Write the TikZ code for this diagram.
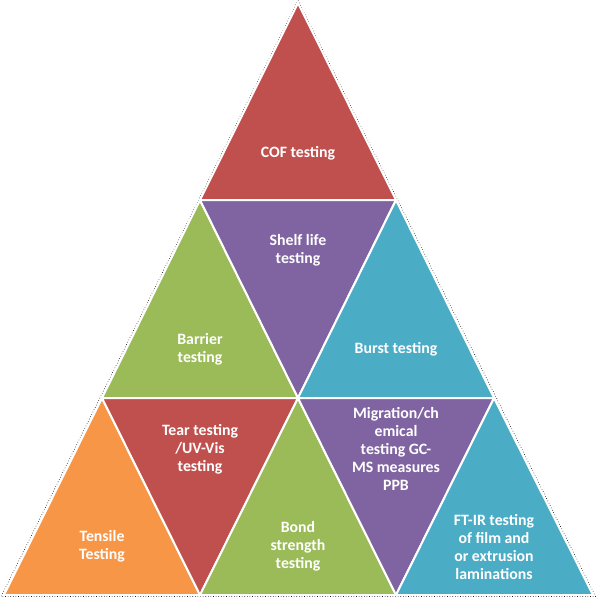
\documentclass[tikz,border=0pt]{standalone}
\usepackage{fontspec}
\setmainfont{Carlito}
\definecolor{cred}{HTML}{C0504D}
\definecolor{cgreen}{HTML}{9BBB59}
\definecolor{cpurple}{HTML}{8064A2}
\definecolor{cblue}{HTML}{4BACC6}
\definecolor{corange}{HTML}{F79646}
\tikzset{
  tri/.style={draw=white, line width=2pt, line join=miter},
  lbl/.style={text=white, font=\bfseries\fontsize{15.8}{18}\selectfont, align=center, inner sep=0pt},
  outline/.style={draw=black, dotted, line width=0.6pt}
}
\begin{document}
\begin{tikzpicture}[x=1pt,y=-1pt]
\useasboundingbox (0,0) rectangle (596,598);
% vertices
\coordinate (A) at (298,3);
\coordinate (B1) at (200,200); \coordinate (B2) at (396,200);
\coordinate (C1) at (102,398); \coordinate (C2) at (298,398); \coordinate (C3) at (494,398);
\coordinate (D1) at (4,595); \coordinate (D2) at (200,595); \coordinate (D3) at (396,595); \coordinate (D4) at (593,595);
% outer dotted outline
\draw[outline] (298,0.5) -- (595.5,596.5) -- (1,596.5) -- cycle;
% triangles
\fill[cred, tri] (A) -- (B1) -- (B2) -- cycle;
\fill[cgreen, tri] (B1) -- (C1) -- (C2) -- cycle;
\fill[cpurple, tri] (B1) -- (B2) -- (C2) -- cycle;
\fill[cblue, tri] (B2) -- (C2) -- (C3) -- cycle;
\fill[corange, tri] (C1) -- (D1) -- (D2) -- cycle;
\fill[cred, tri] (C1) -- (C2) -- (D2) -- cycle;
\fill[cgreen, tri] (C2) -- (D2) -- (D3) -- cycle;
\fill[cpurple, tri] (C2) -- (C3) -- (D3) -- cycle;
\fill[cblue, tri] (C3) -- (D3) -- (D4) -- cycle;
% labels
\node[lbl] (cof) at (298,153) {COF testing};
\node[lbl] (shelf) at (298,250) {Shelf life\\testing};
\node[lbl] (barrier) at (200,349) {Barrier\\testing};
\node[lbl] (burst) at (396,349) {Burst testing};
\node[lbl] (tear) at (200,449) {Tear testing\\/UV-Vis\\testing};
\node[lbl] (mig) at (396,449) {Migration/ch\\emical\\testing GC-\\MS measures\\PPB};
\node[lbl] (tensile) at (102,546) {Tensile\\Testing};
\node[lbl] (bond) at (298,546) {Bond\\strength\\testing};
\node[lbl] (ftir) at (494,547) {FT-IR testing\\of film and\\or extrusion\\laminations};
\end{tikzpicture}
\end{document}
